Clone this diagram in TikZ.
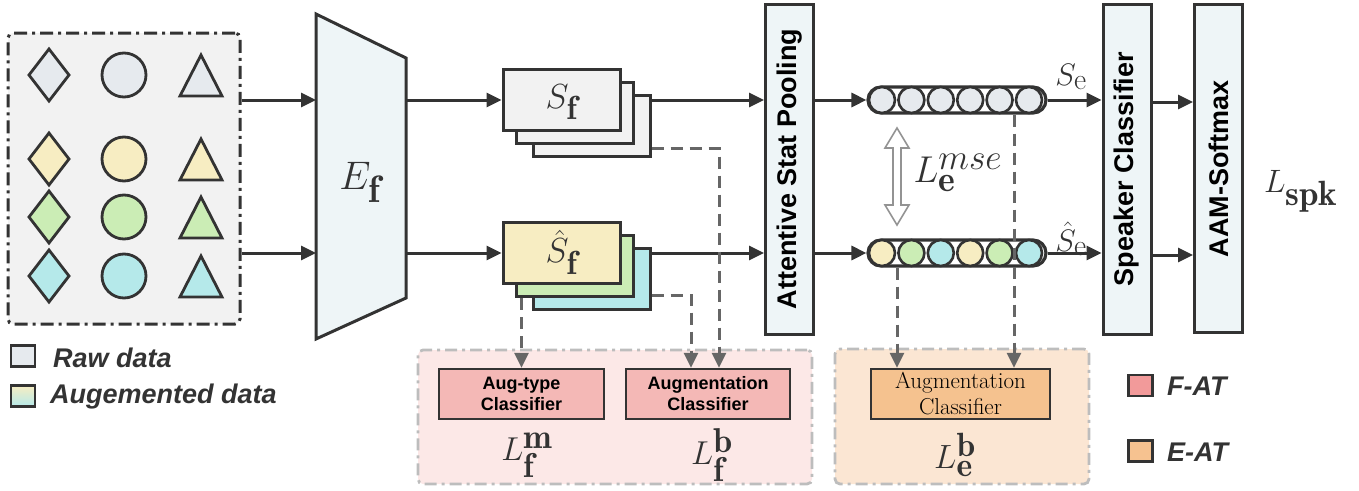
\documentclass[tikz,border=0pt]{standalone}
\usepackage{amsmath}
\usepackage{graphicx}
\usepackage{fontspec}
\setsansfont{Liberation Sans}
\usetikzlibrary{arrows.meta,calc,shapes.geometric}

\definecolor{ink}{HTML}{333333}
\definecolor{dgray}{HTML}{666666}
\definecolor{lgray}{HTML}{BDBDBD}
\definecolor{panel}{HTML}{F2F2F2}
\definecolor{rawc}{HTML}{E6EAEE}
\definecolor{yelc}{HTML}{F7EDC2}
\definecolor{grnc}{HTML}{CBEDB5}
\definecolor{cync}{HTML}{B5E9EA}
\definecolor{blockc}{HTML}{EEF5F7}
\definecolor{fbg}{HTML}{FCE8E7}
\definecolor{fcls}{HTML}{F4B8B6}
\definecolor{ebg}{HTML}{FBE6D3}
\definecolor{ecls}{HTML}{F5C28F}
\definecolor{fat}{HTML}{F29A9A}
\definecolor{eat}{HTML}{F6C290}

% large math label: scale factor, formula
\newcommand\zmath[2]{\scalebox{#1}{$#2$}}
% enlarged sub/superscript: scale factor, formula
\newcommand\zs[2]{\scalebox{#1}{$\scriptstyle #2$}}

\tikzset{
  blk/.style={draw=ink, line width=3pt, fill=blockc, minimum width=48pt,
    minimum height=330pt, inner sep=0pt,
    font=\sffamily\bfseries\fontsize{27}{32}\selectfont},
  arr/.style={draw=ink, line width=3pt, -{Triangle[length=15pt,width=14pt]}},
  darr/.style={draw=dgray, line width=3pt, dash pattern=on 12pt off 7pt,
    -{Triangle[length=15pt,width=14pt]}},
  sheet/.style={draw=ink, line width=3pt, minimum width=117pt,
    minimum height=61pt, inner sep=0pt},
  cls/.style={draw=ink, line width=2.4pt, minimum height=50pt, inner sep=0pt,
    align=center},
  sfcls/.style={cls, font=\sffamily\bfseries\fontsize{18}{21}\selectfont},
  area/.style={line width=2.8pt, draw=lgray, rounded corners=5pt,
    dash pattern=on 12pt off 5pt on 3pt off 5pt, inner sep=0pt},
  shp/.style={draw=ink, line width=2.8pt},
  cell/.style={circle, draw=ink, line width=2.6pt, minimum size=26pt, inner sep=0pt},
  vec/.style={draw=ink, line width=3.2pt, fill=white, rounded corners=13pt,
    minimum width=178pt, minimum height=26pt, inner sep=0pt},
  key/.style={draw=ink, line width=2.8pt, minimum width=24pt, minimum height=21pt,
    inner sep=0pt},
  keytext/.style={anchor=west, inner sep=0pt,
    font=\sffamily\bfseries\itshape\fontsize{27}{32}\selectfont, text=ink},
  mlab/.style={inner sep=0pt, text=ink, font=\Huge},
}

\begin{document}
\begin{tikzpicture}[x=1pt, y=-1pt]
\useasboundingbox (0,0) rectangle (1359,490);

% ---- input panel with raw and augmented samples
\node[draw=ink, fill=panel, line width=3pt, rounded corners=5pt,
  dash pattern=on 13pt off 5pt on 3pt off 5pt,
  minimum width=232pt, minimum height=291pt, inner sep=0pt] (lp) at (124,178.5) {};
\foreach \c/\y in {rawc/75, yelc/159, grnc/217, cync/276}{
  \draw[shp, fill=\c] (49,\y-26) -- (69,\y) -- (49,\y+26) -- (29,\y) -- cycle;
  \draw[shp, fill=\c] (124,\y) circle[radius=22];
  \draw[shp, fill=\c, line join=miter] (201,\y-20) -- (222,\y+21) -- (180,\y+21) -- cycle;
}

% ---- frame-level encoder
\draw[draw=ink, fill=blockc, line width=3pt, line join=miter]
  (316,14) -- (406,58) -- (406,298) -- (316,339) -- cycle;
\node[mlab] (ef) at (360,182) {\zmath{1.6}{E_{\zs{1.15}{\mathbf f}}}};
\coordinate (efin1) at (316,100);
\coordinate (efin2) at (316,253);
\coordinate (efout1) at (406,100);
\coordinate (efout2) at (406,253);

% ---- frame-level feature stacks
\node[sheet, fill=panel] (sf3) at (591.5,126) {};
\node[sheet, fill=panel] (sf2) at (575,113) {};
\node[sheet, fill=panel] (sf1) at (561.5,100) {};
\node[mlab] (sflab) at ([yshift=-2pt]sf1.center) {\zmath{1.4}{S_{\zs{1.15}{\mathbf f}}}};
\node[sheet, fill=cync] (sh3) at (591.5,279) {};
\node[sheet, fill=grnc] (sh2) at (575,266) {};
\node[sheet, fill=yelc] (sh1) at (561.5,253) {};
\node[mlab] (shlab) at ([yshift=1pt]sh1.center) {\zmath{1.4}{\hat{S}_{\zs{1.15}{\mathbf f}}}};

% ---- pooling, speaker classifier and loss head
\node[blk] (pool) at (789.5,169) {\rotatebox{90}{Attentive Stat Pooling}};
\node[blk] (spk) at (1127,169) {\rotatebox{90}{Speaker Classifier}};
\node[blk, minimum height=328pt] (aam) at (1218.5,168.5) {\rotatebox{90}{AAM-Softmax}};
\node[mlab] (lspk) at (1301,191) {\zmath{1.3}{L_{\zs{1.3}{\mathbf{spk}}}}};

% ---- embedding vectors
\node[vec] (tv) at (957,100) {};
\node[vec] (bv) at (957,253) {};
\foreach \i/\c in {0/rawc,1/rawc,2/rawc,3/rawc,4/rawc,5/rawc}
  \node[cell, fill=\c] at (882+29.4*\i,100) {};
\foreach \i/\c in {0/yelc,1/grnc,2/cync,3/yelc,4/grnc,5/cync}
  \node[cell, fill=\c] at (882+29.4*\i,253) {};
\node[mlab] (se) at (1071,77) {\zmath{1.25}{S_{\zs{1.15}{\mathrm e}}}};
\node[mlab] (she) at (1071,239) {\zmath{1.25}{\hat{S}_{\zs{1.15}{\mathrm e}}}};

% ---- consistency loss between the two embeddings
\draw[draw=gray!85, line width=1.6pt, fill=white, line join=miter]
  (897,128) -- (909,148) -- (901,148) -- (901,205) -- (909,205) -- (897,225)
  -- (885,205) -- (893,205) -- (893,148) -- (885,148) -- cycle;
\node[mlab] (lmse) at (958,173) {\zmath{1.5}{L_{\zs{1.15}{\mathbf e}}^{\zs{1.15}{mse}}}};

% ---- F-AT branch
\node[area, fill=fbg, minimum width=394pt, minimum height=134pt] (fa) at (615,417) {};
\node[sfcls, fill=fcls, minimum width=165pt] (atc) at (521.5,394) {Aug-type\\Classifier};
\node[sfcls, fill=fcls, minimum width=164pt] (acl) at (708,394) {Augmentation\\Classifier};
\node[mlab] (lfm) at (527,455) {\zmath{1.33}{L_{\zs{1.25}{\mathbf f}}^{\zs{1.25}{\mathbf m}}}};
\node[mlab] (lfb) at (712,455) {\zmath{1.33}{L_{\zs{1.25}{\mathbf f}}^{\zs{1.25}{\mathbf b}}}};

% ---- E-AT branch
\node[area, fill=ebg, minimum width=254pt, minimum height=135pt] (ea) at (962,416.5) {};
\node[cls, fill=ecls, minimum width=179pt, font=\rmfamily\fontsize{23}{26}\selectfont]
  (ecl) at (960.5,394) {Augmentation\\Classifier};
\node[mlab] (leb) at (955,455) {\zmath{1.35}{L_{\zs{1.2}{\mathbf e}}^{\zs{1.2}{\mathbf b}}}};

% ---- main flow
\draw[arr] (lp.east |- efin1) -- (efin1);
\draw[arr] (lp.east |- efin2) -- (efin2);
\draw[arr] (efout1) -- (sf1.west);
\draw[arr] (efout2) -- (sh1.west);
\draw[arr] (sf3.east |- sf1.east) -- (pool.west |- sf1.east);
\draw[arr] (sh3.east |- sh1.east) -- (pool.west |- sh1.east);
\draw[arr] (pool.east |- tv.west) -- (tv.west);
\draw[arr] (pool.east |- bv.west) -- (bv.west);
\draw[arr] (tv.east) -- (spk.west |- tv.east);
\draw[arr] (bv.east) -- (spk.west |- bv.east);
\draw[arr] ([yshift=-2pt]spk.east |- tv.east) -- ([yshift=-2pt]aam.west |- tv.east);
\draw[arr] ([yshift=-2pt]spk.east |- bv.east) -- ([yshift=-2pt]aam.west |- bv.east);

% ---- adversarial branches
\draw[darr] (sh2.south -| atc.north) -- (atc.north);
\draw[darr] ([yshift=-16pt]sh3.east) -| ([xshift=-17pt]acl.north);
\draw[darr] ([yshift=-22pt]sf3.east) -| ([xshift=11pt]acl.north);
\draw[darr] ([xshift=-60pt]bv.south) -- ([xshift=-60pt]bv.south |- ecl.north);
\draw[darr] ([xshift=57pt]tv.south) -- ([xshift=57pt]tv.south |- ecl.north);

% ---- legends
\node[key, fill=rawc] (kraw) at (23,356) {};
\node[keytext] at (53,358) {Raw data};
\node[key, top color=yelc, bottom color=cync] (kaug) at (23,396) {};
\node[keytext] at (50,397) {Augemented data};
\node[key, fill=fat] (kf) at (1140.5,385.5) {};
\node[keytext] at (1167,386) {F-AT};
\node[key, fill=eat] (ke) at (1140.5,451) {};
\node[keytext] at (1167,452) {E-AT};
\end{tikzpicture}
\end{document}
